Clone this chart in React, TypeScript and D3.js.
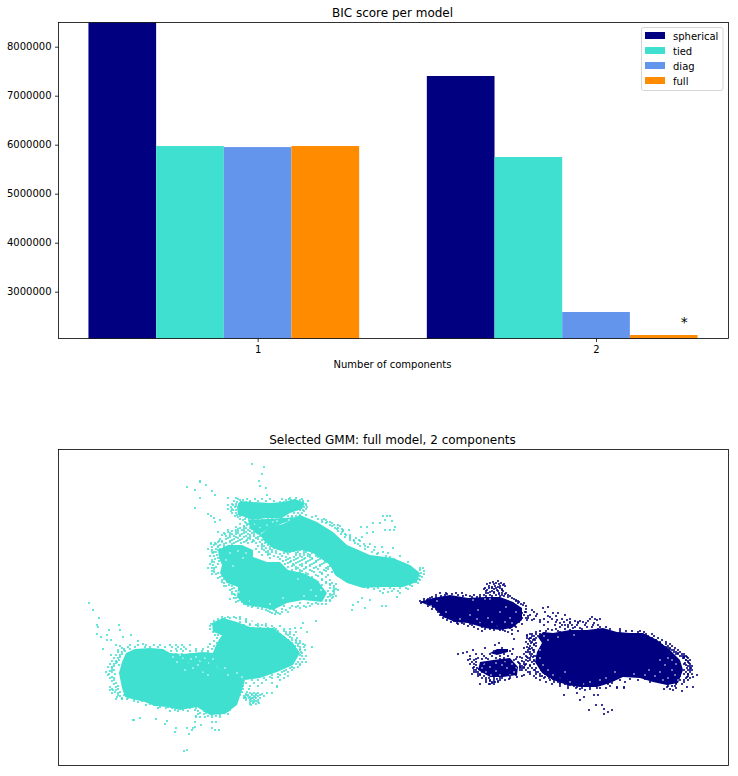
// App.tsx
import React, { useEffect, useRef } from 'react';
import * as d3 from 'd3';

const components = [1, 2];
const modelNames = ['spherical', 'tied', 'diag', 'full'];
const modelColors = ['#000080', '#40e0d0', '#6495ed', '#ff8c00'];
const sphericalScores = [8494000, 7402000];
const tiedScores = [5973000, 5749000];
const diagScores = [5952000, 2586000];
const fullScores = [5973000, 2116000];
const yTicks = [3000000, 4000000, 5000000, 6000000, 7000000, 8000000];
const yLimits = [2045000, 8494000];
const xLimits = [0.41, 2.39];

// Scatter values are read off the picture. There are no axis numbers on it, so the unit is the screen pixel.
type Pt = [number, number];
type Row = number[]; // first entry is y, the rest are the x values on that row

const tealCores: Pt[][] = [
  [[119,673],[122,662],[126,653],[135,649],[150,648],[163,649],[170,653],[183,654],[203,652],[213,653],[217,668],[230,672],[245,680],[242,690],[237,705],[225,714],[210,715],[197,707],[180,710],[167,707],[155,706],[145,702],[132,699],[125,697],[122,688],[120,678]],
  [[212,623],[223,618],[237,622],[250,627],[273,628],[283,635],[293,643],[300,653],[293,665],[277,672],[260,678],[245,680],[217,668],[212,655],[217,643],[222,635],[213,632]],
  [[237,507],[240,501],[253,502],[270,503],[283,502],[295,499],[305,503],[302,509],[290,513],[282,518],[267,518],[252,520],[245,517],[238,515]],
  [[260,535],[270,527],[283,524],[300,515],[317,522],[333,532],[347,545],[370,555],[393,558],[410,565],[420,573],[417,582],[403,587],[383,587],[363,588],[347,583],[335,575],[330,565],[313,553],[302,550],[287,553],[273,548],[265,542]],
  [[248,520],[282,518],[300,517],[270,528],[258,535],[250,528]],
  [[218,550],[228,545],[242,545],[253,550],[253,557],[267,562],[280,562],[288,570],[303,573],[317,580],[327,593],[322,602],[303,600],[287,603],[273,610],[260,607],[245,605],[237,597],[238,587],[227,583],[220,573],[222,565],[219,558]],
];

const tealGaps: Pt[] = [
  [200,661],[205,658],[193,668],[203,672],[208,675],[198,665],[183,658],[177,662],[188,663],[228,675],[237,673],[242,677],[225,668],[173,657],[180,655],[185,670],[196,657],[209,663],[191,659],[213,659],
  [273,522],[277,521],[260,528],[267,525],[255,524],[289,520],
  [230,553],[238,551],[246,553],[226,560],[243,558],[233,566],[304,596],[316,596],[321,590],[311,590],[298,579],[239,592],[249,601],[270,604],[283,598],
];

const navyCores: Pt[][] = [
  [[420,602],[433,598],[450,595],[468,598],[485,597],[500,597],[513,602],[522,608],[522,620],[512,628],[500,630],[485,628],[468,623],[455,622],[443,617],[435,608]],
  [[538,637],[543,632],[553,633],[570,630],[587,630],[603,628],[617,632],[630,633],[643,633],[657,640],[670,650],[680,660],[683,670],[678,683],[667,685],[653,682],[640,678],[623,677],[610,683],[597,687],[580,687],[567,685],[553,680],[542,673],[535,662],[537,652],[542,643]],
  [[480,662],[493,660],[510,658],[518,667],[517,675],[503,677],[490,677],[478,670]],
  [[490,653],[497,649],[508,649],[508,652],[497,655]],
];

const navyGaps: Pt[] = [
  [490,599],[478,610],[470,615],[460,619],[505,622],[510,618],[485,599],[473,600],[516,612],[512,623],[497,626],[480,623],[488,618],[506,607],[426,603],[431,606],[437,601],[446,612],[477,619],[500,612],[492,622],
  [665,665],[672,670],[668,678],[675,675],[660,672],[655,676],[649,670],[672,660],[660,660],[548,670],[553,675],[560,678],[570,682],[565,672],[543,665],[540,650],[548,640],[544,636],[590,682],[600,680],[615,672],[676,664],[668,658],[663,680],[678,680],[645,675],[634,674],[558,637],[574,635],[540,658],[584,684],[606,678],
  [484,664],[490,667],[496,663],[505,662],[512,664],[486,672],[496,671],[507,668],[514,672],[482,668],[500,675],[510,675],[491,675],[502,665],[516,668],[494,651],[503,654],
];

const tealRows: Row[] = [
  [464,252],[467,264],[474,262],[481,259,200],[482,200],[485,206],[486,260],[487,187],[488,266],[490,195],[491,212],[495,215,267],[498,200,228,236,290,296],
  [499,238,247,255,262,270,282,289,302],[500,240,243,286,291,295,300],[501,234,250,258,266,274,303,308],[502,237,241,246,250,280,284,298,303],[504,232,236,239,247,256,262,270,276,302,306],[505,228,233,306],[506,236],[507,231,235,304,307],[508,195],[509,228,232,306],
  [510,233,236,300,303],[511,231,304],[513,232,236,294,298,302],[514,208],[515,237,243,300,306],[516,235,240,211,288,292,296,316,383,387,390],[517,238,246,292,300,312],[518,214],[519,240,245,249,258,268,272,284,300,318,324],
  [520,220,385,243,252,262,322,326],[521,392],[522,215,245,250,254,260,270,275,322,327,330],[523,373,380,246,256,264,274,326,332],[524,240,248,256,268],[525,247,252,258,262,275,278,330,334,338],[526,244,254,262,332,340],
  [527,361,367,395,236,244,252,258,264],[528,240,246,250,256,262,268,335,338],[529,238,244,252,260,337,342],[530,343,349,385,390,394,228,236,242,248,256,262],[531,232,238,244,250,256,262,338,343],[532,218,373,228,236,246,254,342],[533,367,224,230,238,244,252,258],
  [534,225,232,236,242,248,254,260,264,341,345],[535,222,230,240,250,346,350],[536,226,234,240,246,254,260],[537,230,236,244,250,258,264,345,350,362],[538,228,238,248,256,350,356],[539,220,226,234,242,250,258,264],[540,232,240,247,253,262,270,350,354,359],[541,219,222,230,238,246,254,354,360],
  [542,218,222,230,236,244,252,260,268],[543,211,215,226,234,241,248,256,265,275,355],[544,211,216,224,232,262,358,364,370],[545,214,220,262,268,276,284,296,306],[546,218,224,230,258,264,272,280,292,360,365],[547,382,212,218,224,262,270,278,286,302,310,368,375],[548,393,266,274,282,290,300,308,316],[549,208,216,220,256,262,270,278,286,296,305,312,365],
  [550,212,218,264,272,282,292,300,310,318,374],[551,268,276,286,294,304,314,322],[552,216,259,266,272,290,298,306,316,324,372,383,212,214],[553,213,268,276,284,296,304,312,320,328,378,388],[554,377,270,280,288,300,308,318,330],[555,217,262,268,296,304,310,318,326],[556,214,274,282,300,308,316,324,332,386,400,210],[557,390,278,286,294,302,310,318,326,334],[558,218,270,290,298,305,312,322,328],
  [559,215,280,288,296,304,312,320,328,336,394],[560,212,286,294,302,310,318,330,338],[561,219,283,291,300,308,316,325,332],[562,212,214,290,298,306,316,326,334,408],[563,288,296,306,314,324,334,340],[564,218,285,293,302,312,322,331,336,210],[565,213,294,300,310,320,330,338],[566,292,302,310,320,330,340],[567,216,288,296,306,316,328,335],[568,214,298,306,314,326,336,342,420,423,208,212],[569,296,304,318,328,338,344],[570,214,292,300,310,324,334,340,420],
  [571,212,302,312,326,338,346,424],[572,214,300,314,320,332,342],[573,218,296,306,322,336,343,421],[574,216,308,322,340,348,424,212],[575,306,316,328,340,350],[576,222,302,318,338,346,420],[577,220,312,326,348,352,422],[578,218],[579,224,308,322,345,350,419],[580,222,322,330,352,358,420],[582,227,234,318,326,352,360,416,222],
  [583,224,326,332,358,366,418],[584,330,336],[585,229,236,322,330,360,368,376,386,396,410],[586,226,334,372,380,392,402,412,224,232],[588,234,330,334,368,378,390,400,406],[589,232,336,374,384,394,408],[590,230,334,338],[591,236,328,333,380,392,398],[592,232,334,388],[593,383,400],[594,234,240,330,334,232],[595,235,332],
  [596,330,336],[597,238,242,328,333,397],[598,362,236,332,234],[599,230],[600,240,246,320,326,370,330],[601,238,248,326,330],[602,358,236,242],[603,89,246,252,300,308,316],[604,244,254,322,312,318,326],[605,353],[606,253,260,284,292,304,382,386,248,256,310,298],[607,252,262,296,306],
  [608,365,258,290,300],[609,262,270,274,282],[610,93,352,266,274,286],[611,268,276],[612,270,276,282,288],[613,272,278],[614,275,280],[617,222,228,234,240],[618,99,225,230,236],[619,218,222,240,246],[621,316,214,218,246,252],
  [622,218,222,233,240,246],[623,303],[624,211,213,250,258,266],[625,97,119,214,216,244,250,256,262],[626,210,214,258,266,272,280],[627,98],[628,215,218,252,260,268,274,295,301],[629,210,214,276,284,290],[630,109,120],
  [631,218,270,278,284],[632,307,213,286,290,296],[634,97,221,280,286,290],[635,107,131,215,218,288,294],[637,101,123,222,284,290],[638,217,292,297],[640,107,111,220,288,292,296],[641,138,214,296,300],
  [643,217,292,296,300],[644,143,210,298,303],[645,116,305,130,138,146,154,160,170,176,182,190],[646,120,214,295,298],[647,128,135,145,150,158,165,172,178,184,312,208,300,304],[648,122],[649,103,124,130,176,181,186,196,203,212,296,300],[650,118,124,300,305],
  [651,125,171,177,183,190,196,202,208],[652,208,296,301,118,122],[653,302],[654,122,176,182,190,198,204],[655,111,207,297,300,116,120],[656,302,306],[657,120,176,184,192,200,206],[658,114,118],
  [659,300,304],[660,119,178,186,194,201,207],[661,112,116],[662,117,298,302,306],[663,116,180,188,196,204,210],[664,110,114,296,300],[665,119,300],[666,114,188,196,202,208],[667,108,112,292,298],[668,112,196,204,210,290,294],
  [670,112,114,286,292],[671,110,204,284],[672,106,112,282,288],[674,109,115,278,285],[675,108,272,280],[676,288],[677,112,270,278],[678,110,114,264,272,284],[680,114,252,258,266,280],[681,112],[683,116,246,254,262,272],[684,114],[686,118,243,250,258,277],
  [687,277,110,116],[689,112,118,243,249],[690,113,110,116],[692,115,120,242,247],[693,250,254,258,267,272,112,118],[694,246,252,256,262],[695,118,124,240,246,248,252,256,260],[696,120,126,130,244,248,254,258,264],
  [697,117,245,250,255],[698,122,128,238,249,253,244,246,252,256,260],[699,122,127,251,116,134,140],[700,246,250,254,258],[701,134,142,236,252,256],[702,138,148,250,254,258],[703,259,253],[704,150,158,232,250,256],[705,251,146,154],
  [707,160,168,176,186,192],[708,158,166,172,184,190,196],[710,175,183,195,230],[711,170,178,188,198,204,228],[713,200,206,224],[714,198,204,228],[715,212,220],[716,196,208,216],[717,196,200,205,212,220],[718,140],[719,156],
  [720,133,134],[721,167],[722,195,212,216],[724,165],[725,201],[727,195],[728,176,187,193,212],[730,192,215,219],[732,175],[734,189],[750,187],[751,184],
];

const navyRows: Row[] = [
  [581,498],[582,493],[583,490,496,501],[584,487,494,499,504],[585,503],[586,489,495,500,505],[587,492,498],[588,485,489,492,496,500],[589,484,494,502],[590,487,497,502],[591,486,492,498,503],[592,490,494],[593,502,486,440,446,456,462,488,494,499,506],[594,452,447,505,499],[595,445,458,480,436,466,474,484,490,496,502,508],
  [596,441,463,470,492,486,500,504,510],[597,472,477,436,508,432,480],[598,430,512],[599,424,428,514],[600,427,516],[601,420,424,516,518],[602,422,425,428,519],[603,421,426,518,524],[604,430,521],[605,523],[606,428,434,526],[607,433,548],[608,543],
  [609,432,436,526],[610,437,440,532],[612,545,525,438,526,534],[613,522,553,558],[614,537],[615,565,441,440,446,524,530],[616,528,536,548,556],[617,550,592],[618,443,522,448,452,526,528],[619,590,595,600,534,544,552,562,570],[620,447,527,532,540,557,567,597,506,512],
  [621,454,460,462,575,580,588],[622,570,583,451,519,540,548,556,564,578],[623,457,462,560,570,578,586,594],[624,458,464,470,480,522],[625,555,577,593,472,480,565,572,585,598,544,562,568],[626,468,497,515],[627,587,568,474,482,490,516,560,575,592,600,606],[628,497,573,580,490,510],[629,478,485,490,548,556,565,582,598,610,620],[630,503,552,570,494,500,512],
  [631,482,505,518,540,546,558,570,590,620,626,632,640],[632,508,560,575,590,598,610,536,638,644],[633,545,566,600,614,620],[634,512,532,540,548,622,628,530,536,646,652],[635,527,634,540],[636,527,538,640,532,534,648,654],[638,531,536,644,648,527,530,652,658],[639,514,529,534,650],
  [640,533,535,656,662],[641,652,656,530],[642,526,532,660,666],[643,499,531,536,660],[644,528,534,666,670],[645,495,534,662],[646,530,536,668,672],[647,527,666],[648,485,502,529,668,524,532,670,675],[649,513,530,670],[650,473,533,672,528,534,674,678],[651,494,500,506,510],[652,467,528,534,674,526,530,676,680],
  [653,463,678],[654,458,530,676,682,476,482,490,504,512,524,532,678,684],[656,531,536,680,684,470,484,492,500,508,526,534,682,686],[657,517,520,527,533,684,687],[658,478,486,496,504,530,683,522,528,684,688],[659,470,476,482,488,500,516],[660,474,468,514,526,686,530,534,686,690],
  [661,522,528,534,688],[662,472,476,518,524,532,688],[663,483,505,519,689,685],[664,470,474,520,524,526,534,684,690],[665,476,510,525,530,540,686],[666,515,520,690,522,530,688,692],[667,474,520,524],[668,473,477,520,522,528,536,687,691,524,532,690],[669,479,515],
  [670,522,535,541,688,684,476,474,520,526,534,690,692],[672,482,478,512,530,538,544,686,474,476,528,536,690],[673,508,488,496],[674,536,545,551,684,688,472,478,480,530,540,688,692],[675,524,697,480,516],[676,484,510,540,548,680,478,522,534,542,688],
  [677,517,687,693,545,556,672],[678,489,500,549,560,610,660,482,486,494,502,510,536,544,552,686,690],[679,497,509,553,564,614,630,645,655,666,675],[680,486,490,505,554,558,620,638,668,680,494,500,540,550,684,688],[681,490,498],
  [682,492,495,558,566,574,606,625,650,660,672,494,498,486,546,554,684],[683,492,560,568,580,600,612,664,676],[684,480,489,565,572,585,596,608,668,490,494,552,560,676,682],[685,570,580,590,600],
  [686,574,586,594,668,675,560,568,610,672],[687,577,590,667,687,693,617,624],[688,617,624,582,597,568,576,600,606,676],[689,580,590,664,670],[690,673,585],[691,682],[693,577],[695,564,594,598],[697,584],[700,580],
  [705,596,602],[709,604],[710,589,612],[712,608],[714,604],
];

const App: React.FC = () => {
  const svgRef = useRef<SVGSVGElement | null>(null);

  useEffect(() => {
    const svg = d3.select(svgRef.current);
    svg.selectAll('*').remove();
    svg.attr('font-family', '"DejaVu Sans", sans-serif');
    drawBars(svg);
    drawScatter(svg);
  }, []);

  const drawBars = (svg: any) => {
    const margin = { top: 22.5, left: 58.5 };
    const width = 670;
    const height = 316;
    const barWidth = 0.2;
    const series = [sphericalScores, tiedScores, diagScores, fullScores];

    const x = d3.scaleLinear().domain(xLimits).range([-0.5, width - 0.5]);
    const y = d3.scaleLinear().domain(yLimits).range([height, 0]);

    const g = svg.append('g').attr('transform', `translate(${margin.left},${margin.top})`);

    modelNames.forEach((name, i) => {
      g.selectAll(`.bar-${name}`)
        .data(components.map((c, j) => ({ c, value: series[i][j] })))
        .enter().append('rect')
        .attr('x', (d: any) => x(d.c + barWidth * (i - 2.5)))
        .attr('y', (d: any) => y(d.value))
        .attr('width', x(xLimits[0] + barWidth) - x(xLimits[0]))
        .attr('height', (d: any) => height - y(d.value))
        .attr('fill', modelColors[i]);
    });

    const xAxis = g.append('g')
      .attr('transform', `translate(0,${height})`)
      .call(d3.axisBottom(x).tickValues(components).tickFormat(d3.format('d')).tickSize(3.5).tickPadding(3.5));
    const yAxis = g.append('g')
      .call(d3.axisLeft(y).tickValues(yTicks).tickFormat(d3.format('d')).tickSize(3.5).tickPadding(3.5));
    [xAxis, yAxis].forEach(axis => {
      axis.selectAll('text').attr('font-size', 10).attr('font-family', '"DejaVu Sans", sans-serif').attr('fill', '#000');
      axis.selectAll('line').attr('stroke-width', 0.8);
      axis.select('.domain').remove();
    });

    g.append('rect')
      .attr('width', width).attr('height', height)
      .attr('fill', 'none').attr('stroke', '#000').attr('stroke-width', 0.8);

    // star over the selected model
    g.append('text')
      .attr('x', x(2.25)).attr('y', y(2307000) + 1.5)
      .attr('font-size', 14).attr('fill', '#000')
      .text('*');

    g.append('text')
      .attr('x', width / 2 - 1).attr('y', -5.5)
      .attr('text-anchor', 'middle').attr('font-size', 12).attr('fill', '#000')
      .text('BIC score per model');
    g.append('text')
      .attr('x', width / 2 - 1).attr('y', height + 29.5)
      .attr('text-anchor', 'middle').attr('font-size', 10).attr('fill', '#000')
      .text('Number of components');

    // legend
    const legend = g.append('g').attr('transform', 'translate(583,5)');
    legend.append('rect')
      .attr('width', 81.5).attr('height', 63).attr('rx', 2)
      .attr('fill', '#fff').attr('fill-opacity', 0.8)
      .attr('stroke', '#ccc').attr('stroke-width', 0.8);
    modelNames.forEach((name, i) => {
      legend.append('rect')
        .attr('x', 3.5).attr('y', 4.5 + i * 15)
        .attr('width', 20).attr('height', 7)
        .attr('fill', modelColors[i]);
      legend.append('text')
        .attr('x', 31.5).attr('y', 12 + i * 15)
        .attr('font-size', 10).attr('fill', '#000')
        .text(name);
    });
  };

  const drawScatter = (svg: any) => {
    const margin = { top: 449.5, left: 58.5 };
    const width = 670;
    const height = 316;

    const x = d3.scaleLinear().domain([58.5, 728.5]).range([0, width]);
    const y = d3.scaleLinear().domain([449.5, 765.5]).range([0, height]);
    const line = d3.line<Pt>().x(d => x(d[0])).y(d => y(d[1])).curve(d3.curveLinearClosed);

    const g = svg.append('g').attr('transform', `translate(${margin.left},${margin.top})`);

    const drawDots = (points: Pt[], r: number, color: string) => {
      g.selectAll(null)
        .data(points)
        .enter().append('circle')
        .attr('cx', (d: Pt) => x(d[0]))
        .attr('cy', (d: Pt) => y(d[1]))
        .attr('r', r)
        .attr('fill', color);
    };

    const drawCluster = (cores: Pt[][], gaps: Pt[], rows: Row[], color: string) => {
      g.selectAll(null)
        .data(cores)
        .enter().append('path')
        .attr('d', (d: Pt[]) => line(d))
        .attr('fill', color);
      // small white holes left open inside the dense parts
      drawDots(gaps, 0.8, '#ffffff');
      drawDots(rows.flatMap(r => r.slice(1).map(px => [px, r[0]] as Pt)), 1.05, color);
    };

    drawCluster(tealCores, tealGaps, tealRows, modelColors[1]);
    drawCluster(navyCores, navyGaps, navyRows, modelColors[0]);

    // covariance ellipse of the larger component
    g.append('ellipse')
      .attr('transform', `translate(${x(252.5)},${y(620)}) rotate(-20)`)
      .attr('rx', 5).attr('ry', 3)
      .attr('fill', '#ffffff').attr('fill-opacity', 0.45);

    g.append('rect')
      .attr('width', width).attr('height', height)
      .attr('fill', 'none').attr('stroke', '#000').attr('stroke-width', 0.8);

    g.append('text')
      .attr('x', width / 2 - 1).attr('y', -5.5)
      .attr('text-anchor', 'middle').attr('font-size', 12).attr('fill', '#000')
      .text('Selected GMM: full model, 2 components');
  };

  return (
    <div>
      <svg ref={svgRef} width={738} height={776} style={{ position: 'absolute', left: 0, top: 0 }}></svg>
    </div>
  );
};

export default App;
